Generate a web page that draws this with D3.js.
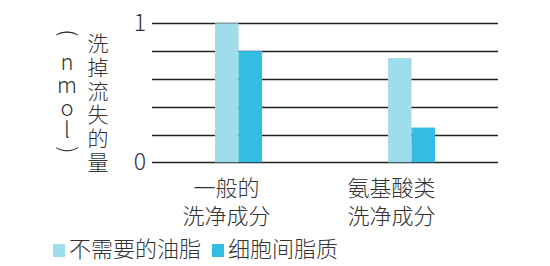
<!DOCTYPE html>
<html>
<head>
<meta charset="utf-8">
<script src="https://cdn.jsdelivr.net/npm/d3@7"></script>
<style>
  html, body { margin: 0; padding: 0; background: #fff; }
  svg text { font-family: "Noto Sans CJK SC", "Noto Sans", sans-serif; fill: #333; }
</style>
</head>
<body>
<svg id="chart" width="550" height="266"></svg>
<script>
// 数据
const categories = ["一般的\n洗净成分", "氨基酸类\n洗净成分"];
const seriesNames = ["不需要的油脂", "细胞间脂质"];
const oilValues = [1.0, 0.75];
const lipidValues = [0.8, 0.25];
const yTicks = [0, 0.2, 0.4, 0.6, 0.8, 1];
const yTickLabels = { 0: "0", 1: "1" };
const yTitle = "洗掉流失的量";
const yUnit = ["(", "n", "m", "o", "l", ")"];

const COLORS = ["#9fdcec", "#33bde0"];
const svg = d3.select("#chart");

const x0 = 152, x1 = 498;
const y = d3.scaleLinear().domain([0, 1]).range([162.3, 23.3]);
const x = d3.scaleBand().domain(categories).range([x0, x1])
  .paddingInner(0.728).paddingOuter(0.364);
const xs = d3.scaleBand().domain(seriesNames).range([0, x.bandwidth()]);

// 网格线
svg.append("g").selectAll("line").data(yTicks).join("line")
  .attr("x1", x0).attr("x2", x1)
  .attr("y1", (d) => Math.round(y(d)) + 0.5).attr("y2", (d) => Math.round(y(d)) + 0.5)
  .attr("stroke", "#222").attr("stroke-width", 1.4);

// 刻度数字
svg.append("g").selectAll("text").data(yTicks.filter((d) => yTickLabels[d] != null)).join("text")
  .attr("x", 146).attr("y", (d) => y(d) + 8)
  .attr("text-anchor", "end").attr("font-size", 23).attr("font-weight", 300)
  .text((d) => yTickLabels[d]);

// 柱子
const series = [oilValues, lipidValues];
series.forEach((vals, si) => {
  svg.append("g").selectAll("rect").data(categories).join("rect")
    .attr("x", (c) => x(c) + xs(seriesNames[si]))
    .attr("width", xs.bandwidth())
    .attr("y", (c, i) => y(vals[i]))
    .attr("height", (c, i) => y(0) - y(vals[i]))
    .attr("fill", COLORS[si]);
});

// 类别标签
const labelShift = [-12, -20];
categories.forEach((c, i) => {
  const lines = c.split("\n");
  const t = svg.append("text")
    .attr("text-anchor", "middle").attr("font-size", 22).attr("font-weight", 300);
  lines.forEach((ln, j) => {
    t.append("tspan").attr("x", x(c) + x.bandwidth() / 2 + labelShift[i])
      .attr("y", 196 + j * 28).text(ln);
  });
});

// 纵轴标题（竖排）
svg.append("g").selectAll("text").data(yTitle.split("")).join("text")
  .attr("x", 98).attr("y", (d, i) => 51 + i * 23.8)
  .attr("text-anchor", "middle").attr("font-size", 21).attr("font-weight", 300)
  .text((d) => d);

const unitY = [33, 62, 85, 108, 130, 150];
svg.append("g").selectAll("text").data(yUnit).join("text")
  .attr("text-anchor", "middle").attr("font-size", 22).attr("font-weight", 300)
  .attr("transform", (d, i) => {
    const rot = (d === "(" || d === ")") ? 90 : 0;
    return `translate(67,${unitY[i]}) rotate(${rot})`;
  })
  .attr("dy", (d) => (d === "(" || d === ")") ? "0.32em" : "0.35em")
  .text((d) => d);

// 图例
const legendX = [53, 212];
const lg = svg.append("g").selectAll("g").data(seriesNames).join("g")
  .attr("transform", (d, i) => `translate(${legendX[i]},0)`);
lg.append("rect").attr("x", 0).attr("y", 244).attr("width", 12).attr("height", 13)
  .attr("fill", (d, i) => COLORS[i]);
lg.append("text").attr("x", 16).attr("y", 257)
  .attr("font-size", 22).attr("font-weight", 300)
  .text((d) => d);
</script>
</body>
</html>
